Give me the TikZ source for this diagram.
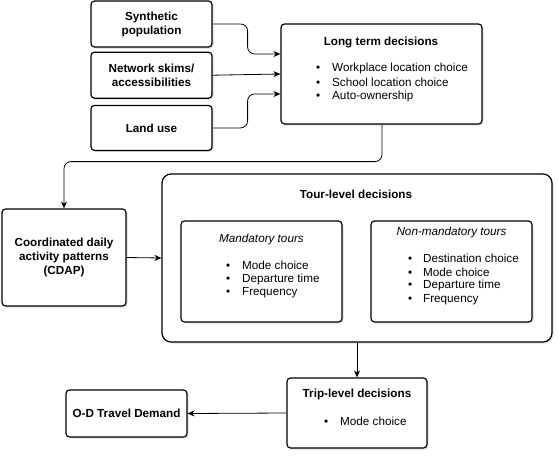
\documentclass[tikz,border=0pt]{standalone}
\usepackage{fontspec}
\setmainfont{Liberation Sans}
\usepackage{tikz}
\usetikzlibrary{positioning,arrows.meta,shadows,calc}
\def\BoxW{121pt}
\def\BoxH{46pt}
\def\DiagFont{\fontsize{11.7}{14}\selectfont}
\tikzset{
  box/.style={draw,line width=1.2pt,rounded corners=3.5pt,fill=white,
    drop shadow={shadow xshift=1.5pt,shadow yshift=-1.5pt,opacity=.25},
    align=center,inner sep=0pt,font=\DiagFont\bfseries},
  inbox/.style={box,drop shadow={opacity=0}},
  title/.style={inner sep=0pt,font=\DiagFont\bfseries},
  sub/.style={inner sep=0pt,font=\DiagFont\itshape},
  item/.style={inner sep=0pt,anchor=west,font=\DiagFont},
  arr/.style={line width=0.8pt,-{Stealth[length=7pt,width=6pt]},rounded corners=7pt}
}
\begin{document}
\begin{tikzpicture}[x=1pt,y=-1pt]
  \useasboundingbox (0,0) rectangle (558,456);
  % inputs
  \node[box,minimum width=\BoxW,minimum height=\BoxH] (syn) at (151.5,24) {Synthetic\\population};
  \node[box,minimum width=\BoxW,minimum height=\BoxH,below=4pt of syn] (net) {Network skims/\\accessibilities};
  \node[box,minimum width=\BoxW,minimum height=45pt,below=6pt of net] (land) {Land use};
  % long term
  \node[box,minimum width=201pt,minimum height=100pt] (lt) at (381.5,74) {};
  \node[title] (lttitle) at (381,42) {Long term decisions};
  \foreach \t [count=\i] in {Workplace location choice,School location choice,Auto-ownership}
    \node[item] (lt\i) at (316,54+14*\i) {\makebox[16pt][l]{\textbullet}\t};
  % cdap
  \node[box,minimum width=124pt,minimum height=97pt] (cdap) at (64,257.5) {Coordinated daily\\activity patterns\\(CDAP)};
  % tour level
  \node[box,rounded corners=9pt,minimum width=390pt,minimum height=168pt] (tour) at (357,258) {};
  \node[title] (tourtitle) at (356,194) {Tour-level decisions};
  \node[inbox,minimum width=161pt,minimum height=101pt] (mand) at (261.5,271.5) {};
  \node[inbox,minimum width=161pt,minimum height=101pt] (nonmand) at (451.5,271.5) {};
  \node[sub] (mandtitle) at (261.5,239) {Mandatory tours};
  \node[sub] (nonmandtitle) at (451.5,232) {Non-mandatory tours};
  \foreach \t [count=\i] in {Mode choice,Departure time,Frequency}
    \node[item] (m\i) at (226,251+14*\i) {\makebox[16pt][l]{\textbullet}\t};
  \foreach \t [count=\i] in {Destination choice,Mode choice,Departure time,Frequency}
    \node[item] (n\i) at (408,244.5+13.7*\i) {\makebox[15pt][l]{\textbullet}\t};
  % trip level and output
  \node[box,minimum width=140pt,minimum height=70pt] (trip) at (357,413) {};
  \node[title] (triptitle) at (357,394) {Trip-level decisions};
  \node[item] (t1) at (324,421) {\makebox[16pt][l]{\textbullet}Mode choice};
  \node[box,minimum width=\BoxW,minimum height=47pt] (od) at (126.5,413.5) {O-D Travel Demand};
  % connectors
  \draw[arr] (syn.east) -- ++(35,0) |- ($(lt.west)+(0,-20)$);
  \draw[arr] (net.east) -- (lt.west);
  \draw[arr] (land.east) -- ++(35,0) |- ($(lt.west)+(0,20)$);
  \draw[arr] ($(lt.south)+(0.5,0)$) -- ++(0,37) -| (cdap.north);
  \draw[arr] (cdap.east) -- (tour.west);
  \draw[arr] (tour.south) -- (trip.north);
  \draw[arr] (trip.west) -- (od.east);
\end{tikzpicture}
\end{document}
